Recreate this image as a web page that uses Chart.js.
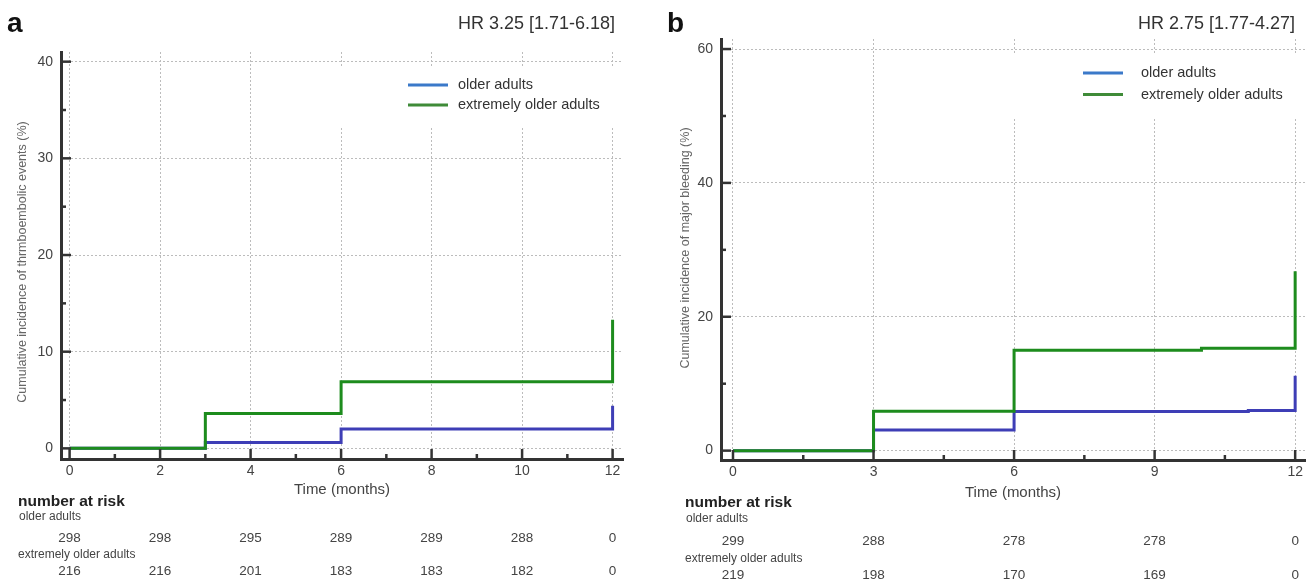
<!DOCTYPE html>
<html>
<head>
<meta charset="utf-8">
<script src="https://cdn.jsdelivr.net/npm/chart.js@4.4.1/dist/chart.umd.min.js"></script>
<style>
  html, body { margin: 0; padding: 0; background: #fff; }
  #wrap { position: relative; width: 1310px; height: 581px; }
  .panel { position: absolute; top: 0; width: 655px; height: 581px; }
</style>
</head>
<body>
<div id="wrap">
  <div class="panel" style="left:0"><canvas id="chartA" width="655" height="581"></canvas></div>
  <div class="panel" style="left:655px"><canvas id="chartB" width="655" height="581"></canvas></div>
</div>
<script>
const seriesNames = ['older adults', 'extremely older adults'];

// panel a: thromboembolic events
const timesOlderA = [0, 3, 6, 12];
const olderA = [0, 0.6, 2.0, 4.4];
const timesExtremeA = [0, 3, 6, 12];
const extremeA = [0, 3.6, 6.9, 13.3];
const xTicksA = [0, 2, 4, 6, 8, 10, 12];
const xMinorA = [1, 3, 5, 7, 9, 11];
const yTicksA = [0, 10, 20, 30, 40];
const yMinorA = [5, 15, 25, 35];
const riskTimesA = [0, 2, 4, 6, 8, 10, 12];
const riskOlderA = [298, 298, 295, 289, 289, 288, 0];
const riskExtremeA = [216, 216, 201, 183, 183, 182, 0];

// panel b: major bleeding
const timesOlderB = [0, 3, 6, 11, 12];
const olderB = [0, 3.1, 5.85, 6.0, 11.2];
const timesExtremeB = [0, 3, 6, 10, 12];
const extremeB = [0, 5.9, 15.0, 15.3, 26.8];
const xTicksB = [0, 3, 6, 9, 12];
const xMinorB = [1.5, 4.5, 7.5, 10.5];
const yTicksB = [0, 20, 40, 60];
const yMinorB = [10, 30, 50];
const riskTimesB = [0, 3, 6, 9, 12];
const riskOlderB = [299, 288, 278, 278, 0];
const riskExtremeB = [219, 198, 170, 169, 0];

const FONT = "'Liberation Sans', Arial, sans-serif";
const lineBlue = '#3e3eb6';
const lineGreen = '#1d8c1d';
const legendBlue = '#3b79c9';
const legendGreen = '#3f8b38';

function toPoints(xs, ys) {
    return xs.map((x, i) => ({ x: x, y: ys[i] }));
}

const kmDecor = {
    id: 'kmDecor',
    afterDraw(chart, args, o) {
        const ctx = chart.ctx;
        const xs = chart.scales.x;
        const ys = chart.scales.y;
        const area = chart.chartArea;
        ctx.save();

        // tick marks pointing into the plot
        ctx.strokeStyle = '#333';
        ctx.lineWidth = 2.5;
        const seg = (x1, y1, x2, y2) => {
            ctx.beginPath(); ctx.moveTo(x1, y1); ctx.lineTo(x2, y2); ctx.stroke();
        };
        o.xMajor.forEach(v => { const p = xs.getPixelForValue(v); seg(p, area.bottom, p, area.bottom - 10); });
        o.xMinor.forEach(v => { const p = xs.getPixelForValue(v); seg(p, area.bottom, p, area.bottom - 5); });
        o.yMajor.forEach(v => { const p = ys.getPixelForValue(v); seg(area.left, p, area.left + 10, p); });
        o.yMinor.forEach(v => { const p = ys.getPixelForValue(v); seg(area.left, p, area.left + 5, p); });

        // panel letter and hazard ratio
        ctx.fillStyle = '#111';
        ctx.font = 'bold 28px ' + FONT;
        ctx.textAlign = 'left';
        ctx.textBaseline = 'alphabetic';
        ctx.fillText(o.letter, o.letterX, 32);
        ctx.fillStyle = '#333';
        ctx.font = '18px ' + FONT;
        ctx.textAlign = 'right';
        ctx.fillText(o.hr, o.hrRight, 29);

        // y axis title
        ctx.save();
        ctx.translate(o.yTitleX, o.yTitleY);
        ctx.rotate(-Math.PI / 2);
        ctx.fillStyle = '#666';
        ctx.font = '12.5px ' + FONT;
        ctx.textAlign = 'center';
        ctx.textBaseline = 'middle';
        ctx.fillText(o.yTitle, 0, 0);
        ctx.restore();

        // x axis title
        ctx.fillStyle = '#444';
        ctx.font = '15px ' + FONT;
        ctx.textAlign = 'center';
        ctx.textBaseline = 'middle';
        ctx.fillText('Time (months)', (area.left + area.right) / 2, o.xTitleY);

        // legend on a white box
        const lg = o.legend;
        ctx.fillStyle = '#fff';
        ctx.fillRect(lg.box[0], lg.box[1], lg.box[2], lg.box[3]);
        ctx.lineWidth = 3;
        [legendBlue, legendGreen].forEach((c, i) => {
            const y = lg.y + i * lg.gap;
            ctx.strokeStyle = c;
            seg(lg.x, y, lg.x + 40, y);
            ctx.fillStyle = '#333';
            ctx.font = '14.5px ' + FONT;
            ctx.textAlign = 'left';
            ctx.textBaseline = 'middle';
            ctx.fillText(seriesNames[i], lg.textX, y);
        });

        // number at risk table
        const rk = o.risk;
        ctx.fillStyle = '#222';
        ctx.font = 'bold 15.5px ' + FONT;
        ctx.textAlign = 'left';
        ctx.fillText('number at risk', rk.labelX, rk.rows[0]);
        ctx.fillStyle = '#444';
        ctx.font = '12px ' + FONT;
        ctx.fillText(seriesNames[0], rk.labelX + 1, rk.rows[1]);
        ctx.fillText(seriesNames[1], rk.labelX, rk.rows[3]);
        ctx.font = '13.5px ' + FONT;
        ctx.textAlign = 'center';
        rk.times.forEach((t, i) => {
            const p = xs.getPixelForValue(t);
            ctx.fillText(String(rk.older[i]), p, rk.rows[2]);
            ctx.fillText(String(rk.extreme[i]), p, rk.rows[4]);
        });

        ctx.restore();
    }
};

function makeChart(id, cfg) {
    const tickFont = { family: FONT, size: 14 };
    return new Chart(document.getElementById(id), {
        type: 'line',
        data: {
            datasets: [
                { label: seriesNames[1], data: toPoints(cfg.extreme[0], cfg.extreme[1]), borderColor: lineGreen },
                { label: seriesNames[0], data: toPoints(cfg.older[0], cfg.older[1]), borderColor: lineBlue }
            ].map(d => Object.assign(d, { borderWidth: 3, stepped: 'before', pointRadius: 0, fill: false, tension: 0 }))
        },
        options: {
            responsive: false,
            animation: false,
            layout: { padding: cfg.padding },
            plugins: {
                legend: { display: false },
                tooltip: { enabled: false },
                kmDecor: cfg.decor
            },
            scales: {
                x: {
                    type: 'linear',
                    min: cfg.xRange[0],
                    max: cfg.xRange[1],
                    afterBuildTicks: s => { s.ticks = cfg.xTicks.map(v => ({ value: v })); },
                    afterFit: s => { s.height = 40; },
                    grid: { color: '#bcbcbc', lineWidth: 1, drawTicks: false },
                    border: { color: '#333', width: 3, dash: [2, 2] },
                    ticks: { autoSkip: false, maxRotation: 0, padding: 4, color: '#444', font: tickFont }
                },
                y: {
                    type: 'linear',
                    min: cfg.yRange[0],
                    max: cfg.yRange[1],
                    afterBuildTicks: s => { s.ticks = cfg.yTicks.map(v => ({ value: v })); },
                    afterFit: s => { s.width = cfg.yWidth; },
                    grid: { color: '#bcbcbc', lineWidth: 1, drawTicks: false },
                    border: { color: '#333', width: 3, dash: [2, 2] },
                    ticks: { autoSkip: false, padding: 8, color: '#444', font: tickFont }
                }
            }
        },
        plugins: [kmDecor]
    });
}

makeChart('chartA', {
    older: [timesOlderA, olderA],
    extreme: [timesExtremeA, extremeA],
    xRange: [-0.19, 12.23],
    yRange: [-1.1, 41],
    xTicks: xTicksA,
    yTicks: yTicksA,
    yWidth: 61,
    padding: { left: 0, right: 32, top: 52, bottom: 82 },
    decor: {
        xMajor: xTicksA, xMinor: xMinorA, yMajor: yTicksA, yMinor: yMinorA,
        letter: 'a', letterX: 7,
        hr: 'HR 3.25 [1.71-6.18]', hrRight: 615,
        yTitle: 'Cumulative incidence of thrmboembolic events (%)', yTitleX: 23, yTitleY: 262,
        xTitleY: 490,
        legend: { box: [335, 68, 285, 60], x: 408, y: 85, gap: 20, textX: 458 },
        risk: { labelX: 18, rows: [502, 517, 538, 555, 571], times: riskTimesA, older: riskOlderA, extreme: riskExtremeA }
    }
});

makeChart('chartB', {
    older: [timesOlderB, olderB],
    extreme: [timesExtremeB, extremeB],
    xRange: [-0.256, 12.21],
    yRange: [-1.4, 61.5],
    xTicks: xTicksB,
    yTicks: yTicksB,
    yWidth: 66,
    padding: { left: 0, right: 5, top: 39, bottom: 81 },
    decor: {
        xMajor: xTicksB, xMinor: xMinorB, yMajor: yTicksB, yMinor: yMinorB,
        letter: 'b', letterX: 12,
        hr: 'HR 2.75 [1.77-4.27]', hrRight: 640,
        yTitle: 'Cumulative incidence of major bleeding (%)', yTitleX: 31, yTitleY: 248,
        xTitleY: 493,
        legend: { box: [345, 55, 305, 62], x: 428, y: 73, gap: 21.5, textX: 486 },
        risk: { labelX: 30, rows: [503, 519, 541, 559, 575], times: riskTimesB, older: riskOlderB, extreme: riskExtremeB }
    }
});
</script>
</body>
</html>
